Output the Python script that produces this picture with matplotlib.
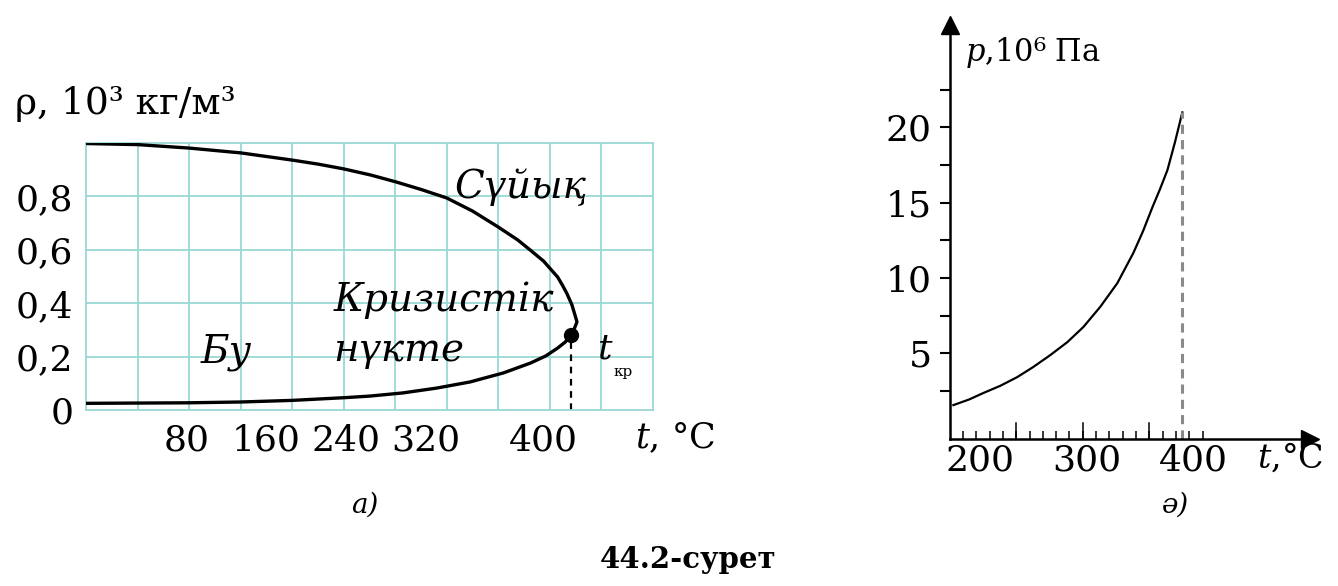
import matplotlib
matplotlib.use('Agg')
import matplotlib.pyplot as plt
import numpy as np

plt.rcParams['font.family'] = ['DejaVu Serif']
plt.rcParams['mathtext.fontset'] = 'dejavuserif'

# --- a) density of water and vapour vs temperature ---
t_liquid = [0, 40, 80, 120, 160, 180, 200, 221, 240, 260, 280, 300, 320, 335, 345, 355,
            366, 370, 373, 377, 379, 381, 379, 376]
rho_liquid = [0.998, 0.994, 0.981, 0.963, 0.936, 0.921, 0.903, 0.880, 0.855, 0.826, 0.794,
              0.745, 0.685, 0.637, 0.598, 0.558, 0.498, 0.465, 0.438, 0.395, 0.363, 0.33,
              0.305, 0.28]
t_vapour = [0, 40, 80, 120, 160, 200, 220, 246, 272, 298, 324, 345, 357, 366, 372, 376]
rho_vapour = [0.025, 0.026, 0.027, 0.030, 0.036, 0.046, 0.052, 0.064, 0.082, 0.105, 0.139,
              0.176, 0.203, 0.232, 0.255, 0.28]
t_cr = 376
rho_cr = 0.28
t_ticks = ['80', '160', '240', '320', '400']
t_tick_pos = [78, 140, 202, 264, 355]
rho_ticks = [0, 0.2, 0.4, 0.6, 0.8]
rho_labels = ['0', '0,2', '0,4', '0,6', '0,8']

# --- ә) saturated vapour pressure vs temperature ---
t_p = [175, 190, 203, 219, 235, 250, 266, 282, 297, 313, 329, 344, 353, 362, 369, 376, 383, 390]
p_vals = [1.57, 1.95, 2.37, 2.85, 3.43, 4.1, 4.89, 5.75, 6.75, 8.1, 9.67, 11.67, 13.1,
          14.72, 15.9, 17.17, 19.0, 21.0]
p_ticks = [5, 10, 15, 20]
tp_ticks = [200, 300, 400]

W, H = 1338, 586
fig = plt.figure(figsize=(W / 100, H / 100), dpi=100)
grid_c = '#9ad8d4'

ax = fig.add_axes([86 / W, 1 - 410 / H, 567 / W, 267 / H])
ax.set_xlim(0, 440)
ax.set_ylim(0, 1.0)
for v in np.arange(40, 440, 40):
    ax.axvline(v, color=grid_c, lw=1.3, zorder=0)
for v in np.arange(0.2, 1.0, 0.2):
    ax.axhline(v, color=grid_c, lw=1.3, zorder=0)
for s in ax.spines.values():
    s.set_color(grid_c)
    s.set_linewidth(1.3)

t_all = t_vapour + t_liquid[::-1]
rho_all = rho_vapour + rho_liquid[::-1]
ax.plot(t_all, rho_all, color='black', lw=2.4, solid_joinstyle='round', zorder=3)
ax.plot([t_cr], [rho_cr], 'o', color='black', ms=10, zorder=4)
ax.plot([t_cr, t_cr], [0, rho_cr], color='black', lw=1.6, ls=(0, (3, 2.5)), zorder=2)

ax.set_xticks(t_tick_pos)
ax.set_xticklabels(t_ticks)
ax.set_yticks(rho_ticks)
ax.set_yticklabels(rho_labels)
ax.tick_params(axis='both', length=0, labelsize=26)
ax.tick_params(axis='x', pad=10)
ax.tick_params(axis='y', pad=9)

ax.text(337, 0.835, 'Сүйық', style='italic', fontsize=28, ha='center', va='center')
ax.text(278, 0.412, 'Кризистік', style='italic', fontsize=28, ha='center', va='center')
ax.text(192, 0.221, 'нүкте', style='italic', fontsize=28, ha='left', va='center')
ax.text(109, 0.217, 'Бу', style='italic', fontsize=28, ha='center', va='center')
ax.text(402, 0.232, 't', style='italic', fontsize=26, ha='center', va='center')
ax.text(417, 0.142, 'кр', fontsize=11, ha='center', va='center')

fig.text(15 / W, 1 - 104 / H, 'ρ, 10³ кг/м³', fontsize=27, ha='left', va='center')
fig.text(635 / W, 1 - 438 / H, r'$t$, °C', fontsize=25, ha='left', va='center')

# --- right chart ---
bx = fig.add_axes([950 / W, 1 - 439 / H, 360 / W, 414 / H])
bx.set_xlim(171.8, 509.9)
bx.set_ylim(-0.68, 26.8)
for k in ['top', 'right']:
    bx.spines[k].set_visible(False)
for k in ['left', 'bottom']:
    bx.spines[k].set_linewidth(1.8)
bx.plot(1, 0, '>', color='black', ms=13, transform=bx.transAxes, clip_on=False)
bx.plot(0, 1, '^', color='black', ms=13, transform=bx.transAxes, clip_on=False)

bx.plot(t_p, p_vals, color='black', lw=1.6, solid_joinstyle='round')
bx.plot([t_p[-1], t_p[-1]], [-0.68, p_vals[-1]], color='#8a8a8a', lw=2.2, ls=(0, (3, 2)))

bx.set_yticks(p_ticks)
bx.set_yticks([2.5, 7.5, 12.5, 17.5, 22.5], minor=True)
bx.tick_params(axis='y', which='both', direction='out', length=7, width=1.5, labelsize=26, pad=6)
bx.set_xticks(tp_ticks)
bx.set_xticks(184 + 12.5 * np.arange(19), minor=True)
bx.tick_params(axis='x', which='major', length=0, labelsize=26, pad=3)
bx.tick_params(axis='x', which='minor', direction='in', length=6, width=1.1)
for v in [234, 296.5, 359]:
    bx.plot([v, v], [-0.68, 0.4], color='black', lw=1.1)

fig.text(965 / W, 1 - 53 / H, r'$p$,10⁶ Па', fontsize=22, ha='left', va='center')
fig.text(1257 / W, 1 - 458 / H, r'$t$,°C', fontsize=24, ha='left', va='center')

fig.text(365 / W, 1 - 505 / H, 'а)', style='italic', fontsize=20, ha='center', va='center')
fig.text(1175 / W, 1 - 505 / H, 'ә)', style='italic', fontsize=20, ha='center', va='center')
fig.text(688 / W, 1 - 560 / H, '44.2-сурет', fontweight='bold', fontsize=21, ha='center', va='center')

fig.savefig('out.png', dpi=100)
